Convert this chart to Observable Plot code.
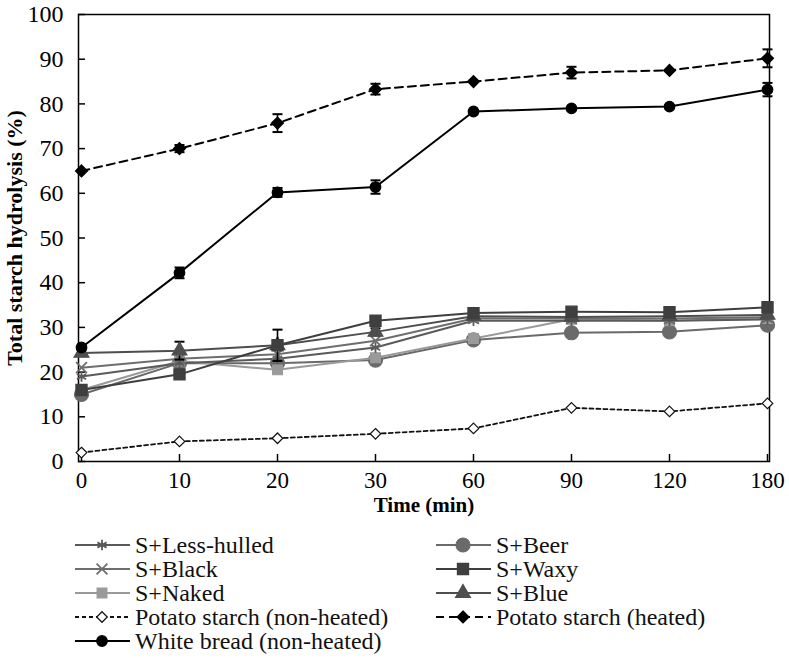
<!DOCTYPE html>
<html>
<head>
<meta charset="utf-8">
<script src="https://cdn.jsdelivr.net/npm/d3@7"></script>
<script src="https://cdn.jsdelivr.net/npm/@observablehq/plot@0.6"></script>
<style>
  body { margin: 0; background: #fff; }
  #chart { position: relative; width: 789px; }
  #legend { display: block; }
</style>
</head>
<body>
<div id="chart"></div>
<div id="legend"></div>
<script>
const times = ["0", "10", "20", "30", "60", "90", "120", "180"];
const yTicks = [0, 10, 20, 30, 40, 50, 60, 70, 80, 90, 100];

const lessHulled   = [19.0, 22.0, 23.0, 25.5, 31.5, 31.5, 31.5, 31.8];
const blackBarley  = [21.0, 23.0, 24.0, 27.0, 32.0, 32.0, 32.0, 32.3];
const naked        = [16.0, 22.5, 20.5, 23.2, 27.5, 31.8, 31.5, 32.0];
const beer         = [15.0, 22.0, 22.0, 22.7, 27.2, 28.8, 29.0, 30.5];
const waxy         = [16.0, 19.5, 26.0, 31.5, 33.2, 33.5, 33.4, 34.5];
const blueBarley   = [24.3, 24.8, 26.0, 29.0, 32.5, 32.3, 32.5, 32.8];
const potatoRaw    = [2.0, 4.5, 5.2, 6.2, 7.4, 12.0, 11.2, 13.0];
const potatoHeated = [65.0, 70.0, 75.7, 83.3, 85.0, 87.0, 87.5, 90.2];
const whiteBread   = [25.5, 42.2, 60.2, 61.4, 78.3, 79.0, 79.4, 83.2];

const heatedErr = [0.5, 0.8, 2.0, 1.2, 0.5, 1.3, 0.6, 2.0];
const breadErr  = [0.5, 1.2, 1.0, 1.5, 0.5, 0.5, 0.5, 1.5];
const blueErr   = [0.5, 2.0, 0.8, 0.8, 0.5, 0.5, 0.5, 0.5];
const waxyErr   = [0.5, 0.5, 3.5, 0.8, 0.5, 0.5, 0.5, 0.5];

const FONT = "'Liberation Serif', 'DejaVu Serif', serif";

const diamondSym = { draw(ctx, size) { const h = Math.sqrt(size / Math.PI) * 1.15;
  ctx.moveTo(0, -h); ctx.lineTo(h, 0); ctx.lineTo(0, h); ctx.lineTo(-h, 0); ctx.closePath(); } };
const capSymbol = { draw(ctx, size) { const w = 5; ctx.moveTo(-w, 0); ctx.lineTo(w, 0); } };

const series = [
  {name: "Potato starch (non-heated)", v: potatoRaw, color: "#111", symbol: diamondSym, fill: "#fff", r: 4.6, dash: "4,3", sw: 1.8},
  {name: "S+Beer", v: beer, color: "#6a6a6a", symbol: d3.symbolCircle, fill: "#6a6a6a", r: 7, sw: 2},
  {name: "S+Naked", v: naked, color: "#9a9a9a", symbol: d3.symbolSquare, fill: "#9a9a9a", r: 5.5, sw: 2},
  {name: "S+Less-hulled", v: lessHulled, color: "#5a5a5a", symbol: d3.symbolAsterisk, fill: "none", r: 5, sw: 2},
  {name: "S+Black", v: blackBarley, color: "#6e6e6e", symbol: d3.symbolTimes, fill: "none", r: 5, sw: 2},
  {name: "S+Blue", v: blueBarley, color: "#4e4e4e", symbol: d3.symbolTriangle, fill: "#4e4e4e", r: 5.5, sw: 2, err: blueErr},
  {name: "S+Waxy", v: waxy, color: "#3f3f3f", symbol: d3.symbolSquare, fill: "#3f3f3f", r: 6.3, sw: 2, err: waxyErr},
  {name: "Potato starch (heated)", v: potatoHeated, color: "#000", symbol: diamondSym, fill: "#000", r: 5.2, dash: "8,5", sw: 2, err: heatedErr},
  {name: "White bread (non-heated)", v: whiteBread, color: "#000", symbol: d3.symbolCircle, fill: "#000", r: 5.3, sw: 2, err: breadErr}
];

const rows = [];
series.forEach(s => s.v.forEach((y, i) => rows.push({name: s.name, t: times[i], y, e: s.err ? s.err[i] : 0})));

const marks = [
  Plot.frame({stroke: "#000", strokeWidth: 1.5}),
  Plot.axisY(yTicks, {anchor: "left", tickSize: -7, tickPadding: 22, fontSize: 24, stroke: "#000", strokeWidth: 1.5, label: null}),
  Plot.axisX(times, {anchor: "bottom", tickSize: -7, tickPadding: 17, fontSize: 23, stroke: "#000", strokeWidth: 1.5, label: null}),
  Plot.text(["Total starch hydrolysis (%)"], {frameAnchor: "left", textAnchor: "middle", rotate: -90, dx: -64, fontSize: 22, fontWeight: "bold"}),
  Plot.text(["Time (min)"], {frameAnchor: "bottom", dy: 50, fontSize: 21, fontWeight: "bold"})
];

series.forEach(s => {
  const d = rows.filter(r => r.name === s.name);
  marks.push(Plot.line(d, {x: "t", y: "y", stroke: s.color, strokeWidth: s.sw, strokeDasharray: s.dash || null}));
  if (s.err) {
    const de = d.filter(r => r.e > 0.6);
    marks.push(Plot.ruleX(de, {x: "t", y1: r => r.y - r.e, y2: r => r.y + r.e, stroke: "#000", strokeWidth: 1.6}));
    marks.push(Plot.dot(de, {x: "t", y: r => r.y + r.e, symbol: capSymbol, stroke: "#000", strokeWidth: 2, r: 3}));
    marks.push(Plot.dot(de, {x: "t", y: r => r.y - r.e, symbol: capSymbol, stroke: "#000", strokeWidth: 2, r: 3}));
  }
  const stroked = s.fill === "none";
  marks.push(Plot.dot(d, {x: "t", y: "y", symbol: s.symbol, r: s.r,
    fill: stroked ? "none" : s.fill, stroke: s.color, strokeWidth: stroked ? 1.8 : 1.2}));
});

const chart = Plot.plot({
  width: 789,
  height: 528,
  marginLeft: 78,
  marginRight: 20,
  marginTop: 14,
  marginBottom: 67,
  style: {fontFamily: FONT, color: "#000", background: "#fff"},
  x: {type: "point", domain: times, padding: 0},
  y: {domain: [0, 100]},
  marks
});
document.getElementById("chart").appendChild(chart);

// Legend (SVG so the serif font matches the chart)
const legendOrder = [
  ["S+Less-hulled", 0, 0], ["S+Beer", 1, 0],
  ["S+Black", 0, 1], ["S+Waxy", 1, 1],
  ["S+Naked", 0, 2], ["S+Blue", 1, 2],
  ["Potato starch (non-heated)", 0, 3], ["Potato starch (heated)", 1, 3],
  ["White bread (non-heated)", 0, 4]
];
const lsvg = d3.create("svg").attr("width", 789).attr("height", 130)
  .style("display", "block").style("font-family", FONT);
legendOrder.forEach(([name, col, row]) => {
  const s = series.find(q => q.name === name);
  const x0 = col === 0 ? 75 : 436;
  const y0 = 17 + row * 24;
  const g = lsvg.append("g").attr("transform", `translate(${x0},${y0})`);
  g.append("line").attr("x1", 0).attr("x2", 55).attr("y1", 0).attr("y2", 0)
    .attr("stroke", s.color).attr("stroke-width", s.sw)
    .attr("stroke-dasharray", s.dash || null);
  const stroked = s.fill === "none";
  g.append("path").attr("transform", "translate(27,0)")
    .attr("d", d3.symbol(s.symbol, Math.PI * s.r * s.r)())
    .attr("fill", stroked ? "none" : s.fill).attr("stroke", s.color).attr("stroke-width", stroked ? 1.8 : 1.2);
  g.append("text").attr("x", 60).attr("y", 0).attr("dy", "0.35em")
    .attr("font-size", 24).attr("fill", "#111").text(name);
});
document.getElementById("legend").appendChild(lsvg.node());
</script>
</body>
</html>
